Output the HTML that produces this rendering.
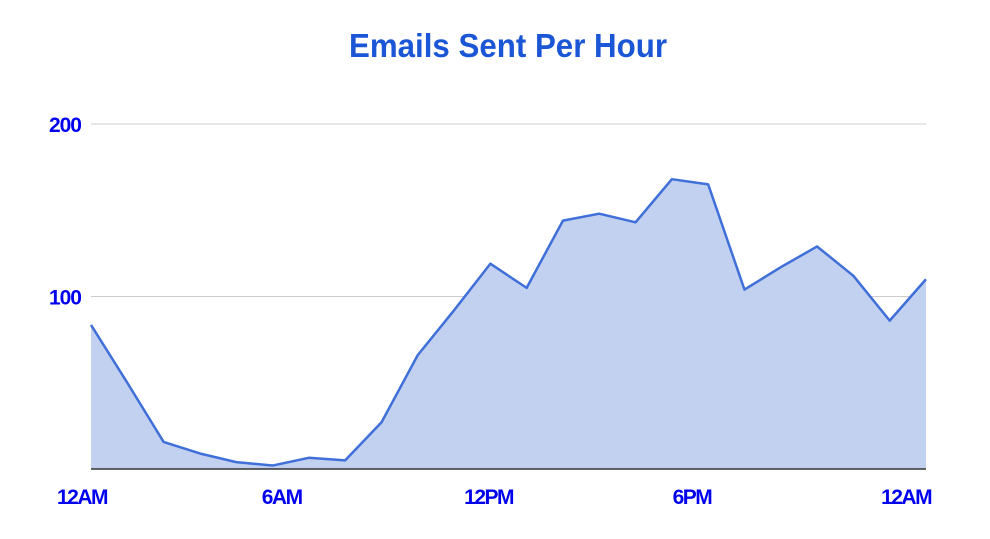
<!DOCTYPE html>
<html><head><meta charset="utf-8"><style>
body{margin:0;background:#fff;width:990px;height:534px;overflow:hidden;font-family:"Liberation Sans",sans-serif}
</style></head><body>
<svg id="chart" width="990" height="534" xmlns="http://www.w3.org/2000/svg">
<text x="508" y="57" text-anchor="middle" font-family="Liberation Sans Narrow, Liberation Sans, sans-serif" font-weight="bold" font-size="33" fill="#1a56d6" textLength="318" lengthAdjust="spacingAndGlyphs">Emails Sent Per Hour</text>
<g id="grid"></g><g id="marks"></g><g id="labels"></g>
</svg>
<script>
const hours=[0,1,2,3,4,5,6,7,8,9,10,11,12,13,14,15,16,17,18,19,20,21,22,23];
const emails=[83.5,50,15.7,9,4,2,6.5,5,27,66,92,119,105,144,148,143,168,165,104,117,129,112,86,110];
const yTicks=[100,200];
const xTickLabels=["12AM","6AM","12PM","6PM","12AM"];
const xTickHours=[0,5.5,11.2,16.8,22.7];
const X0=91,X1=926,Y0=469,YS=1.725;
const xs=h=>X0+h*(X1-X0)/(hours.length-1);
const ys=v=>Y0-v*YS;
const NS="http://www.w3.org/2000/svg";
function mk(t,a,p){const e=document.createElementNS(NS,t);for(const k in a)e.setAttribute(k,a[k]);p.appendChild(e);return e;}
const grid=document.getElementById('grid'),marks=document.getElementById('marks'),labels=document.getElementById('labels');
yTicks.forEach(v=>{
 const l=mk('line',{x1:X0,x2:X1,y1:ys(v),y2:ys(v),stroke:'#cccccc','stroke-width':1},grid);
 
 
 const t=mk('text',{x:X0-10,y:ys(v)+8,'text-anchor':'end','font-size':21,'font-weight':'bold','letter-spacing':'-1',fill:'#0000ee','font-family':'Liberation Sans Narrow, Liberation Sans, sans-serif'},labels);
 t.textContent=v;
 
 
});
let pts=hours.map((h,i)=>xs(h)+','+ys(emails[i]));
const area=mk('polygon',{points:xs(hours[0])+','+Y0+' '+pts.join(' ')+' '+xs(hours[hours.length-1])+','+Y0,fill:'#c2d1f0'},marks);


const line=mk('polyline',{points:pts.join(' '),fill:'none',stroke:'#3f6fd8','stroke-width':2.5,'stroke-linejoin':'round'},marks);


const ax=mk('line',{x1:X0,x2:X1,y1:Y0,y2:Y0,stroke:'#333','stroke-width':1.5},marks);


xTickLabels.forEach((s,i)=>{
 const t=mk('text',{x:xs(xTickHours[i])-9,y:504,'text-anchor':'middle','font-size':21,'font-weight':'bold','letter-spacing':'-1.5',fill:'#0000ee','font-family':'Liberation Sans Narrow, Liberation Sans, sans-serif'},labels);
 t.textContent=s;
 
 
});
</script>
</body></html>
